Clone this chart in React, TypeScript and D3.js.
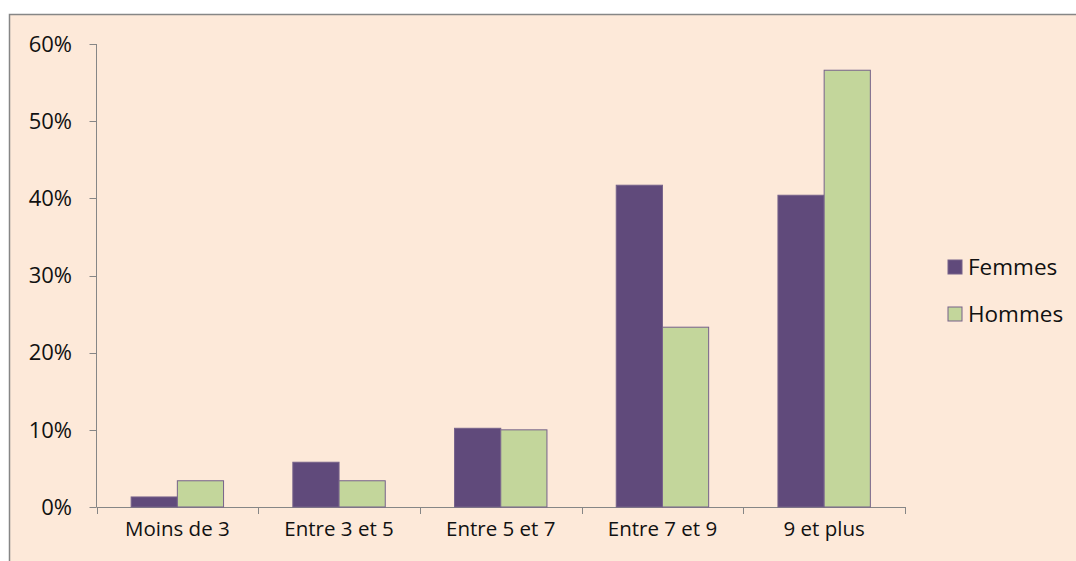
import { useEffect, useRef } from 'react';
import * as d3 from 'd3';

const categories = ['Moins de 3', 'Entre 3 et 5', 'Entre 5 et 7', 'Entre 7 et 9', '9 et plus'];
const femmes = [1.3, 5.8, 10.2, 41.7, 40.4];
const hommes = [3.4, 3.4, 10.0, 23.3, 56.6];
const seriesNames = ['Femmes', 'Hommes'];
const seriesColors = ['#604a7b', '#c3d69b'];
const yTicks = [0, 10, 20, 30, 40, 50, 60];

export default function App() {
  const svgRef = useRef<SVGSVGElement>(null);

  useEffect(() => {
    if (!svgRef.current) return;
    const svg = d3.select(svgRef.current);
    svg.selectAll('*').remove();

    const font = "'Open Sans', 'Liberation Sans', sans-serif";
    const axisColor = '#868686';
    const textColor = '#111';
    const left = 96.5, right = 905, top = 44, bottom = 507;

    // chart frame
    svg.append('rect')
      .attr('x', 9.5).attr('y', 14.5)
      .attr('width', 1080).attr('height', 570)
      .attr('fill', '#fde9d9')
      .attr('stroke', axisColor)
      .attr('stroke-width', 1.5);

    const x = d3.scaleBand<string>().domain(categories).range([left, right]).padding(0);
    const x1 = d3.scaleBand<string>().domain(seriesNames).range([0, x.bandwidth()])
      .paddingInner(0).paddingOuter(0.75);
    const y = d3.scaleLinear().domain([0, 60]).range([bottom, top]);

    // y axis
    const g = svg.append('g');
    g.append('line')
      .attr('x1', left).attr('x2', left)
      .attr('y1', top).attr('y2', bottom)
      .attr('stroke', axisColor);
    yTicks.forEach(t => {
      g.append('line')
        .attr('x1', left - 7).attr('x2', left)
        .attr('y1', Math.round(y(t)) + 0.5).attr('y2', Math.round(y(t)) + 0.5)
        .attr('stroke', axisColor);
      g.append('text')
        .attr('x', 72).attr('y', y(t))
        .attr('dy', '0.35em')
        .attr('text-anchor', 'end')
        .attr('font-family', font)
        .attr('font-size', 22)
        .attr('fill', textColor)
        .text(`${t}%`);
    });

    // bars
    const data = [femmes, hommes];
    categories.forEach((c, i) => {
      seriesNames.forEach((s, j) => {
        const v = data[j][i];
        svg.append('rect')
          .attr('x', (x(c) as number) + (x1(s) as number))
          .attr('y', y(v))
          .attr('width', x1.bandwidth())
          .attr('height', y(0) - y(v))
          .attr('fill', seriesColors[j])
          .attr('stroke', '#76628a')
          .attr('stroke-width', 1);
      });
    });

    // x axis
    g.append('line')
      .attr('x1', left).attr('x2', right)
      .attr('y1', bottom + 0.5).attr('y2', bottom + 0.5)
      .attr('stroke', axisColor);
    [...categories.map(c => x(c) as number), right].forEach(p => {
      g.append('line')
        .attr('x1', Math.round(p) + 0.5).attr('x2', Math.round(p) + 0.5)
        .attr('y1', bottom).attr('y2', bottom + 7)
        .attr('stroke', axisColor);
    });
    categories.forEach(c => {
      g.append('text')
        .attr('x', (x(c) as number) + x.bandwidth() / 2)
        .attr('y', 536)
        .attr('text-anchor', 'middle')
        .attr('font-family', font)
        .attr('font-size', 20.5)
        .attr('fill', textColor)
        .text(c);
    });

    // legend
    seriesNames.forEach((s, j) => {
      const cy = 267 + j * 47;
      svg.append('rect')
        .attr('x', 948).attr('y', cy - 7)
        .attr('width', 14).attr('height', 14)
        .attr('fill', seriesColors[j])
        .attr('stroke', '#76628a');
      svg.append('text')
        .attr('x', 968).attr('y', cy)
        .attr('dy', '0.35em')
        .attr('font-family', font)
        .attr('font-size', 22.5)
        .attr('fill', textColor)
        .text(s);
    });
  }, []);

  return (
    <svg ref={svgRef} width={1076} height={561}
      style={{ position: 'absolute', left: 0, top: 0, background: '#fff' }} />
  );
}
